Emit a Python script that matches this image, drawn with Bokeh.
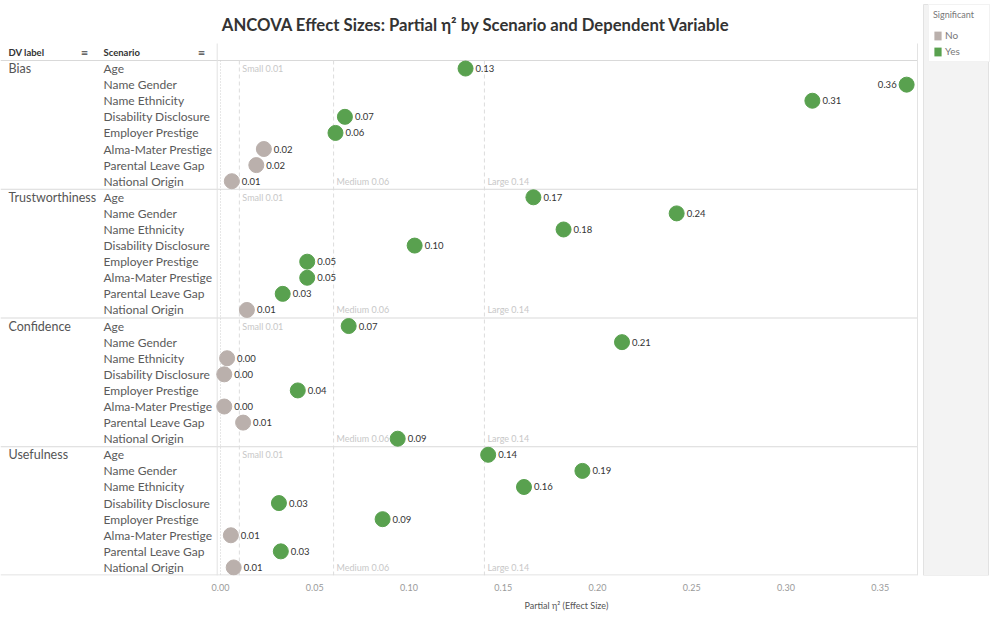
from bokeh.plotting import figure
from bokeh.models import (Range1d, FixedTicker, NumeralTickFormatter, ColumnDataSource,
                          Legend, LegendItem, Title)
from bokeh.core.properties import value
from bokeh.embed import file_html
from bokeh.resources import INLINE

# ---------------- data ----------------
chart_title = "ANCOVA Effect Sizes: Partial η² by Scenario and Dependent Variable"
x_axis_title = "Partial η² (Effect Size)"
legend_title = "Significant"
header_dv = "DV label"
header_scenario = "Scenario"

dv_labels = ["Bias", "Trustworthiness", "Confidence", "Usefulness"]
scenarios = ["Age", "Name Gender", "Name Ethnicity", "Disability Disclosure",
             "Employer Prestige", "Alma-Mater Prestige", "Parental Leave Gap",
             "National Origin"]

bias_eta = [0.130, 0.364, 0.314, 0.066, 0.061, 0.023, 0.019, 0.006]
trust_eta = [0.166, 0.242, 0.182, 0.103, 0.046, 0.046, 0.033, 0.014]
conf_eta = [0.068, 0.213, 0.0035, 0.002, 0.041, 0.002, 0.012, 0.094]
useful_eta = [0.142, 0.192, 0.161, 0.031, 0.086, 0.0055, 0.032, 0.007]

bias_sig = ["Yes", "Yes", "Yes", "Yes", "Yes", "No", "No", "No"]
trust_sig = ["Yes", "Yes", "Yes", "Yes", "Yes", "Yes", "Yes", "No"]
conf_sig = ["Yes", "Yes", "No", "No", "Yes", "No", "No", "Yes"]
useful_sig = ["Yes", "Yes", "Yes", "Yes", "Yes", "No", "Yes", "No"]

sig_levels = ["No", "Yes"]
sig_colors = ["#bab0ac", "#59a14f"]

x_ticks = [0.0, 0.05, 0.10, 0.15, 0.20, 0.25, 0.30, 0.35]
threshold_values = [0.01, 0.06, 0.14]
threshold_names = ["Small", "Medium", "Large"]

# ---------------- layout helpers ----------------
W, H = 996, 625
FRAME_H = 575
PX_PER_UNIT = 1885.0
ZERO_PX = 220.0
HEADER_PX = 60.0
N_ROWS = len(dv_labels) * len(scenarios)
ROW_PX = (FRAME_H - HEADER_PX) / N_ROWS

X0 = -ZERO_PX / PX_PER_UNIT
X1 = X0 + W / PX_PER_UNIT


def xpx(px):
    return X0 + px / PX_PER_UNIT


def ypx(py):
    return (py - HEADER_PX) / ROW_PX


FONT = value("Lato")
NAN = float("nan")

p = figure(width=W, height=H, x_range=Range1d(X0, X1),
           y_range=Range1d(N_ROWS, ypx(0)), title=None,
           output_backend="svg", toolbar_location=None,
           y_axis_location=None, min_border_left=0, min_border_right=0,
           min_border_top=0, min_border_bottom=50)
p.outline_line_color = None
p.xgrid.visible = False
p.ygrid.visible = False
p.background_fill_color = "white"
p.border_fill_color = "white"

# ---------------- build table ----------------
all_eta = [bias_eta, trust_eta, conf_eta, useful_eta]
all_sig = [bias_sig, trust_sig, conf_sig, useful_sig]
rows = dict(eta=[], y=[], color=[], label=[], align=[], xoff=[], scen=[])
for g, (etas, sigs) in enumerate(zip(all_eta, all_sig)):
    for j, (e, s) in enumerate(zip(etas, sigs)):
        rows["eta"].append(e)
        rows["y"].append(g * len(scenarios) + j + 0.5)
        rows["color"].append(sig_colors[sig_levels.index(s)])
        rows["label"].append(f"{e:.2f}")
        near_edge = e > x_ticks[-1]
        rows["align"].append("right" if near_edge else "left")
        rows["xoff"].append(-10 if near_edge else 10)
        rows["scen"].append(scenarios[j])
src = ColumnDataSource(rows)

# ---------------- grid / separators ----------------
line_col = "#d9d9d9"
sep_y = [g * len(scenarios) for g in range(len(dv_labels))] + [N_ROWS - 0.03]
p.segment(x0=xpx(0), x1=xpx(917), y0=sep_y, y1=sep_y, line_color=line_col, line_width=1)
p.segment(x0=[xpx(216.7), xpx(917)], x1=[xpx(216.7), xpx(917)],
          y0=ypx(43), y1=N_ROWS, line_color="#e3e3e3", line_width=1)
# zero line
p.segment(x0=0, x1=0, y0=0, y1=N_ROWS, line_color="#cfcfcf", line_dash="1 2", line_width=1)
# effect-size thresholds
p.segment(x0=threshold_values, x1=threshold_values, y0=0, y1=N_ROWS,
          line_color="#dcdcdc", line_dash="4 3", line_width=1)

thr_x, thr_y, thr_t = [], [], []
for g in range(len(dv_labels)):
    for v, n in zip(threshold_values, threshold_names):
        thr_x.append(v)
        thr_y.append(g * len(scenarios) + (0.5 if n == "Small" else len(scenarios) - 0.5))
        thr_t.append(f"{n} {v:.2f}")
p.text(x=thr_x, y=thr_y, text=thr_t, x_offset=3, text_font=FONT, text_font_size="9px",
       text_color="#c8c8c8", text_baseline="middle", text_align="left")

# ---------------- legend panel background ----------------
p.quad(left=xpx(923), right=xpx(988), top=ypx(4), bottom=N_ROWS,
       fill_color="#f3f3f3", line_color="#e2e2e2")

# ---------------- points and value labels ----------------
p.scatter(x="eta", y="y", size=15, fill_color="color", line_color="color", source=src)
p.text(x="eta", y="y", text="label", x_offset="xoff", text_align="align",
       text_baseline="middle", text_font=FONT, text_font_size="9.5px",
       text_color="#333333", source=src)

# ---------------- left label columns ----------------
p.text(x=xpx(8), y=[g * len(scenarios) + 0.5 for g in range(len(dv_labels))],
       text=dv_labels, text_font=FONT, text_font_size="12.5px", text_color="#555555",
       text_baseline="middle")
p.text(x=xpx(103), y="y", text="scen", source=src, text_font=FONT,
       text_font_size="12px", text_color="#5a5a5a", text_baseline="middle")

# header
p.text(x=[xpx(8), xpx(103)], y=ypx(52), text=[header_dv, header_scenario],
       text_font=FONT, text_font_size="9.5px", text_font_style="bold",
       text_color="#333333", text_baseline="middle")
p.text(x=[xpx(84), xpx(201)], y=ypx(52), text=["≡", "≡"], text_font=value("DejaVu Sans"),
       text_font_size="9px", text_color="#444444", text_baseline="middle", text_align="center")

# title
p.text(x=xpx(475.5), y=ypx(24), text=[chart_title], text_font=FONT,
       text_font_size="16.7px", text_font_style="bold", text_color="#333333",
       text_align="center", text_baseline="middle")

# ---------------- axis ----------------
ax = p.xaxis[0]
ax.ticker = FixedTicker(ticks=x_ticks)
ax.formatter = NumeralTickFormatter(format="0.00")
ax.axis_line_color = None
ax.major_tick_line_color = None
ax.minor_tick_line_color = None
ax.major_label_standoff = 2
ax.major_label_text_font = "Lato"
ax.major_label_text_font_size = "9px"
ax.major_label_text_color = "#9a9a9a"

p.add_layout(Title(text=x_axis_title, align="left", offset=524, standoff=8,
                   text_font="Lato", text_font_size="9px", text_font_style="normal",
                   text_color="#555555"), "below")

# ---------------- legend ----------------
leg_items = []
for lvl, col in zip(sig_levels, sig_colors):
    r = p.quad(left=[NAN], right=[NAN], top=[NAN], bottom=[NAN],
               fill_color=col, line_color=None)
    leg_items.append(LegendItem(label=lvl, renderers=[r]))
legend = Legend(items=leg_items, title=legend_title, location=(928, 513),
                title_text_font="Lato", title_text_font_size="9px",
                title_text_color="#777777", title_text_font_style="normal",
                title_standoff=9, label_text_font="Lato", label_text_font_size="10px",
                label_text_color="#777777", glyph_width=9, glyph_height=11,
                label_height=11, label_width=40, label_standoff=3, spacing=4,
                padding=4, margin=0,
                border_line_color="#e6e6e6", background_fill_color="white",
                background_fill_alpha=1.0)
p.add_layout(legend, "center")

open("out.html", "w").write(file_html(p, INLINE))
